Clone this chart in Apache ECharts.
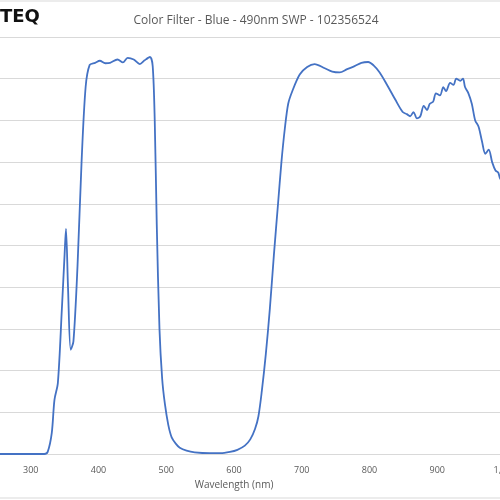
<!DOCTYPE html>
<html>
<head>
<meta charset="utf-8">
<script src="https://cdn.jsdelivr.net/npm/echarts@6/dist/echarts.min.js"></script>
<style>html,body{margin:0;padding:0;background:#fff}#chart{width:500px;height:500px}</style>
</head>
<body>
<div id="chart"></div>
<script>
var wavelength = [200,250,300,320,325,331,335,340,346,350,352,355,359,363,369,375,381,387,395,402,410,417,428,436,443,452,461,468,476,480,483,486,490,494,498,503,508,514,520,530,542,564,580,594,605,616,624,631,636,641,647,653,659,665,670,675,680,686,697,708,719,734,745,756,767,778,788,798,806,815,826,838,849,855,860,865,870,875,880,885,889,894,898,904,909,913,919,924,928,934,938,941,946,951,956,961,966,971,976,981,986,990,993,1000];
var transmission = [0,0,0,0,0.5,5,13,17,35,48,54,40,25,27,45,70,88,93.3,93.8,94.3,93.7,93.8,94.6,93.9,95,94.6,93.5,94.4,95.2,93,80,55,30,18,12,7,4,2.5,1.5,0.8,0.4,0.2,0.2,0.5,1,2,3.5,6,9,15,24,35,48,60,70,78,84,87,91,92.8,93.5,92.5,91.7,91.5,92.3,93,93.8,94,93.2,91.5,88.5,85,82,81.5,81,82,80.5,81,83.5,82.5,84,84.5,86.5,86,88,87,89,88.5,90,89.5,90,88,86.5,84,80,78.5,75,72,73,70,68,67.5,66,65];

var chart = echarts.init(document.getElementById('chart'));
var points = wavelength.map(function (w, i) { return [w, transmission[i]]; });
chart.setOption({
  animation: false,
  title: {
    text: 'Color Filter - Blue - 490nm SWP - 102356524',
    left: 251, top: 10, textAlign: 'center',
    textStyle: {fontFamily: 'Open Sans', fontSize: 12, fontWeight: 'normal', color: '#595959'}
  },
  graphic: [
    {type: 'text', left: 0, top: 8, style: {text: 'TEQ', font: 'bold 18px DejaVu Sans', fill: '#111'}},
    {type: 'line', shape: {x1: 0, y1: 1, x2: 500, y2: 1}, style: {stroke: '#d9d9d9'}},
    {type: 'line', shape: {x1: 0, y1: 498, x2: 500, y2: 498}, style: {stroke: '#d9d9d9'}}
  ],
  grid: {left: -37, top: 37, width: 542, height: 417, containLabel: false, outerBoundsMode: 'none'},
  xAxis: {
    type: 'value', min: 200, max: 1000, interval: 100,
    name: 'Wavelength (nm)', nameLocation: 'middle', nameGap: 26,
    nameTextStyle: {fontFamily: 'Open Sans', fontSize: 10, color: '#595959'},
    axisLine: {lineStyle: {color: '#d9d9d9'}}, axisTick: {show: false},
    axisLabel: {fontFamily: 'Open Sans', fontSize: 9, color: '#595959', margin: 12},
    splitLine: {show: false}
  },
  yAxis: {
    type: 'value', min: 0, max: 100, interval: 10,
    axisLine: {show: false}, axisTick: {show: false}, axisLabel: {show: false},
    splitLine: {lineStyle: {color: '#d9d9d9'}}
  },
  series: [{
    type: 'line', data: points, showSymbol: false, smooth: 0.3,
    lineStyle: {color: '#4472c4', width: 1.8}
  }]
});
</script>
</body>
</html>
